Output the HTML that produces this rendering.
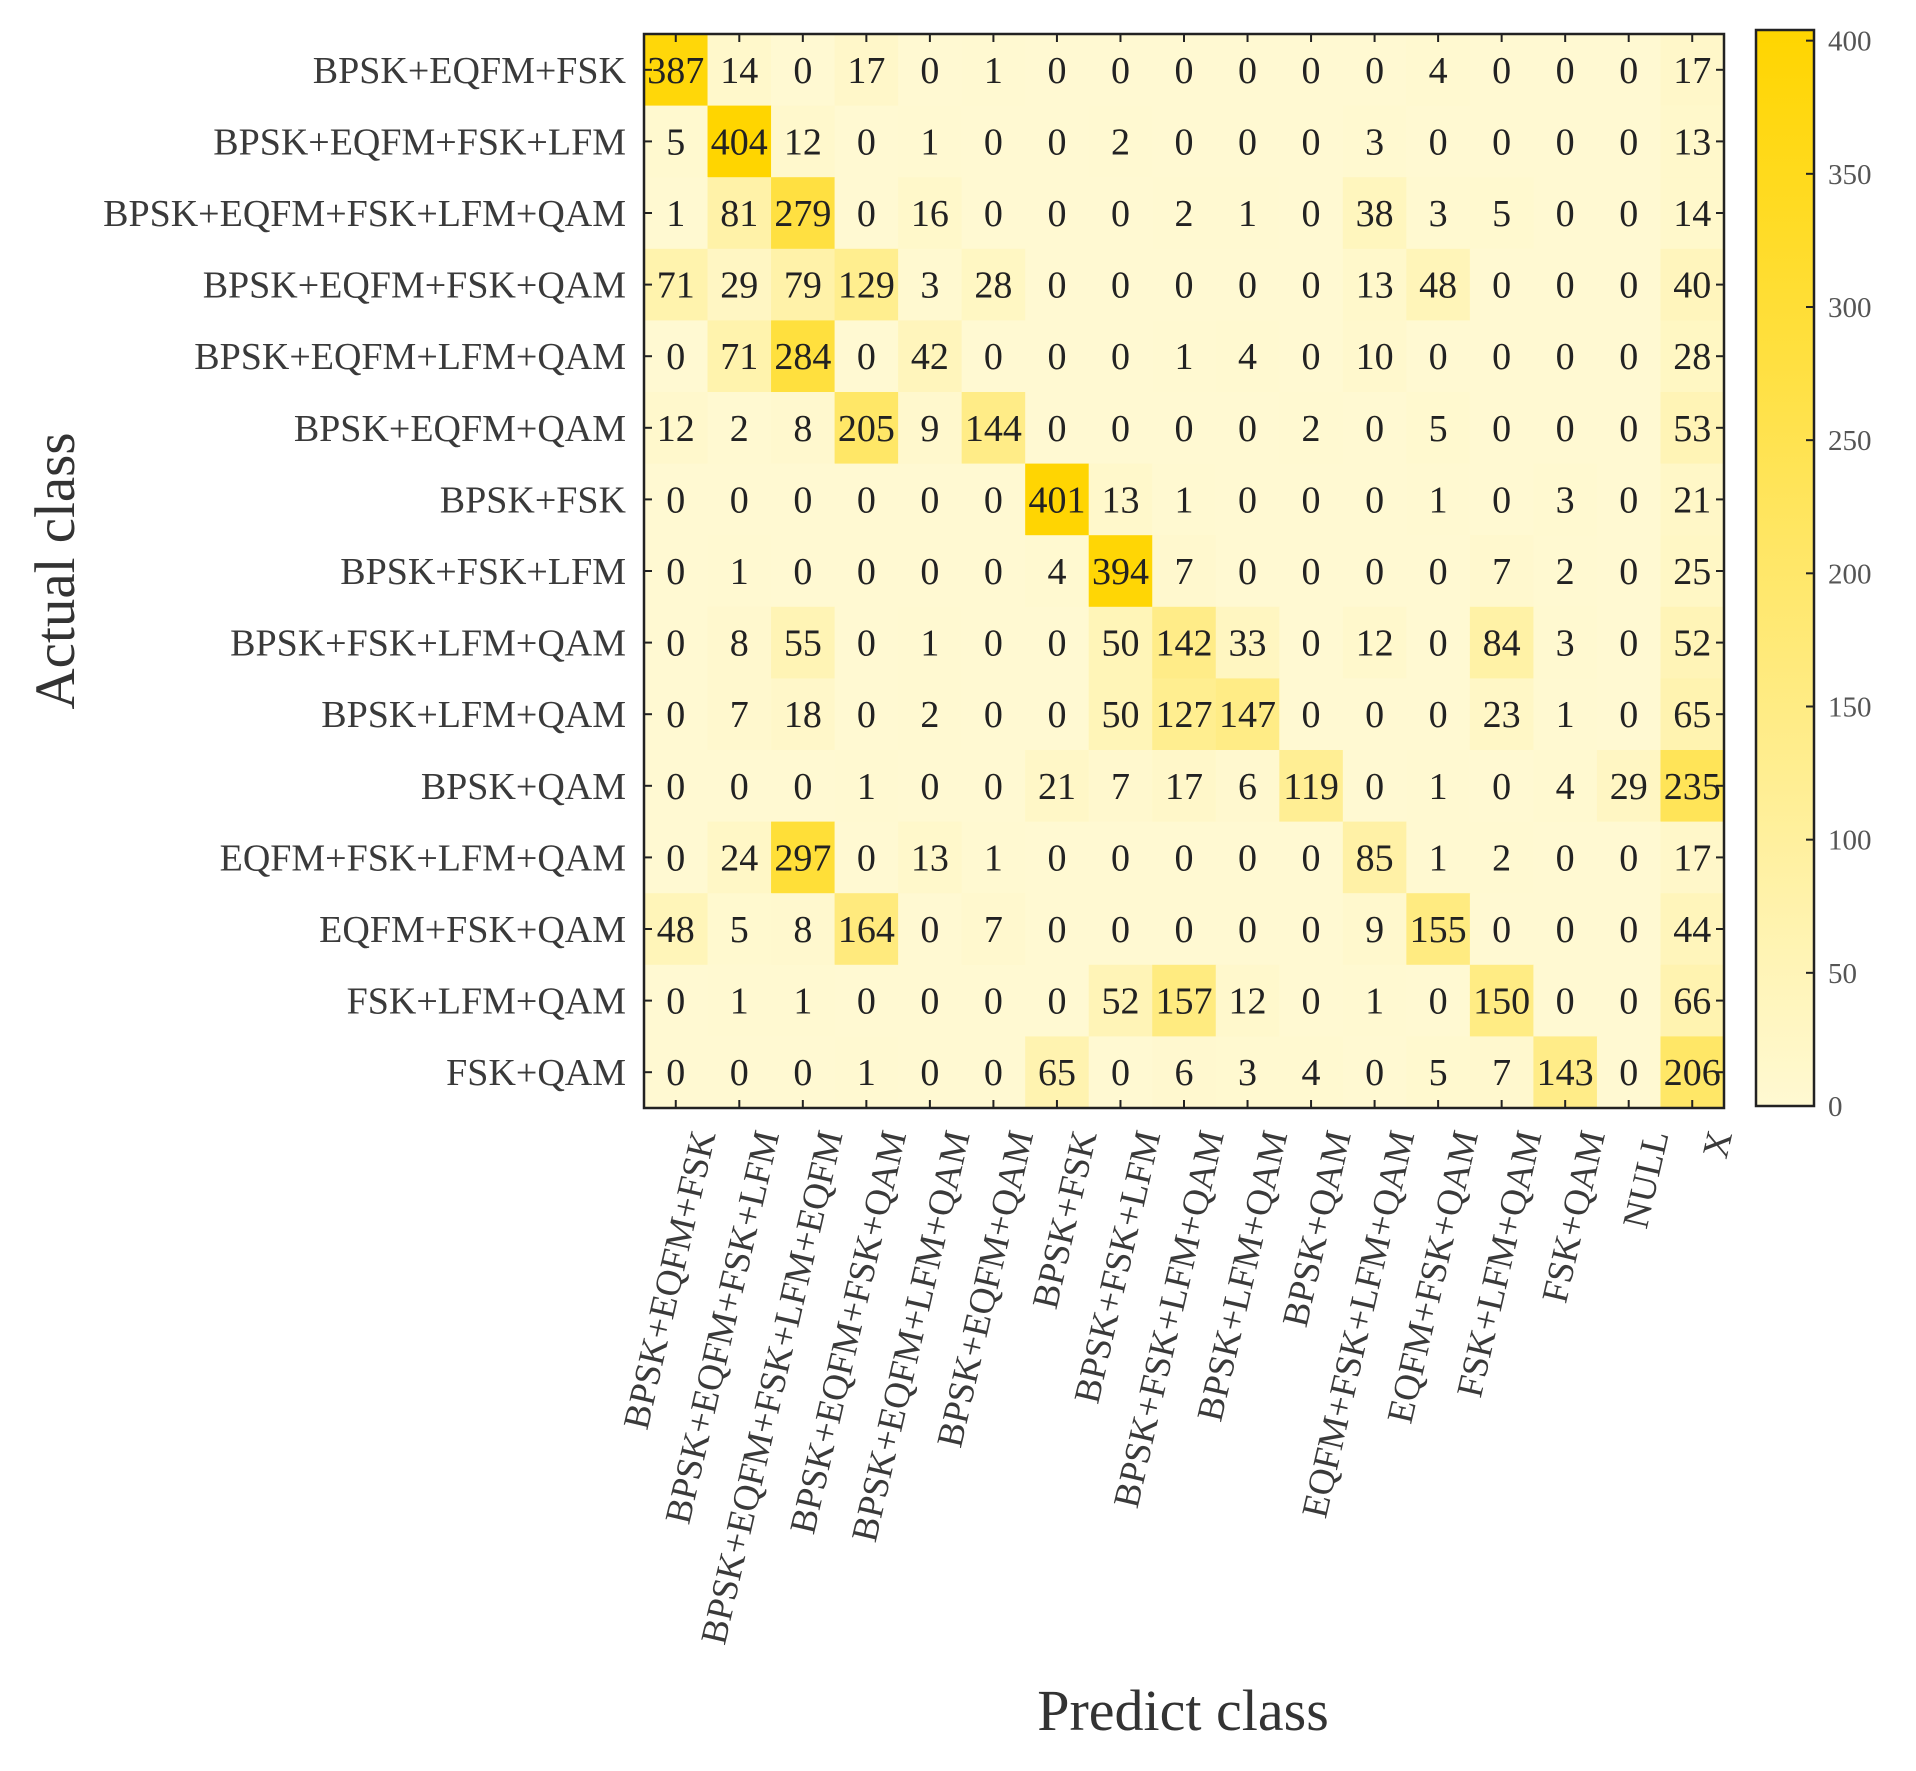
<!DOCTYPE html>
<html><head><meta charset="utf-8"><style>
html,body{margin:0;padding:0;background:#fff;}
svg{display:block;font-family:"Liberation Serif",serif;}
</style></head><body>
<svg id="chart" width="1916" height="1771" viewBox="0 0 1916 1771" xmlns="http://www.w3.org/2000/svg">
<defs><linearGradient id="cbg" x1="0" y1="1" x2="0" y2="0"><stop offset="0" stop-color="#FFF9D2"/><stop offset="1" stop-color="#FFD500"/></linearGradient></defs>
<g id="cells"></g>
<g id="axes"></g>
</svg>
<script>
const rowLabels=["BPSK+EQFM+FSK","BPSK+EQFM+FSK+LFM","BPSK+EQFM+FSK+LFM+QAM","BPSK+EQFM+FSK+QAM","BPSK+EQFM+LFM+QAM","BPSK+EQFM+QAM","BPSK+FSK","BPSK+FSK+LFM","BPSK+FSK+LFM+QAM","BPSK+LFM+QAM","BPSK+QAM","EQFM+FSK+LFM+QAM","EQFM+FSK+QAM","FSK+LFM+QAM","FSK+QAM"];
const colLabels=["BPSK+EQFM+FSK","BPSK+EQFM+FSK+LFM","BPSK+EQFM+FSK+LFM+EQFM","BPSK+EQFM+FSK+QAM","BPSK+EQFM+LFM+QAM","BPSK+EQFM+QAM","BPSK+FSK","BPSK+FSK+LFM","BPSK+FSK+LFM+QAM","BPSK+LFM+QAM","BPSK+QAM","EQFM+FSK+LFM+QAM","EQFM+FSK+QAM","FSK+LFM+QAM","FSK+QAM","NULL","X"];
const values=[
[387,14,0,17,0,1,0,0,0,0,0,0,4,0,0,0,17],
[5,404,12,0,1,0,0,2,0,0,0,3,0,0,0,0,13],
[1,81,279,0,16,0,0,0,2,1,0,38,3,5,0,0,14],
[71,29,79,129,3,28,0,0,0,0,0,13,48,0,0,0,40],
[0,71,284,0,42,0,0,0,1,4,0,10,0,0,0,0,28],
[12,2,8,205,9,144,0,0,0,0,2,0,5,0,0,0,53],
[0,0,0,0,0,0,401,13,1,0,0,0,1,0,3,0,21],
[0,1,0,0,0,0,4,394,7,0,0,0,0,7,2,0,25],
[0,8,55,0,1,0,0,50,142,33,0,12,0,84,3,0,52],
[0,7,18,0,2,0,0,50,127,147,0,0,0,23,1,0,65],
[0,0,0,1,0,0,21,7,17,6,119,0,1,0,4,29,235],
[0,24,297,0,13,1,0,0,0,0,0,85,1,2,0,0,17],
[48,5,8,164,0,7,0,0,0,0,0,9,155,0,0,0,44],
[0,1,1,0,0,0,0,52,157,12,0,1,0,150,0,0,66],
[0,0,0,1,0,0,65,0,6,3,4,0,5,7,143,0,206]];
const cbTicks=[0,50,100,150,200,250,300,350,400];
const cMax=404;
const L=644,T=34,R=1724,B=1108;
const cw=(R-L)/colLabels.length, ch=(B-T)/rowLabels.length;
const xs=i=>L+i*cw, ys=j=>T+j*ch;
const CL=1756,CR=1814,CT=30,CB=1106;
const cy=v=>CB-(v/cMax)*(CB-CT);
function color(v){const t=Math.min(1,v/cMax);const c0=[255,249,210],c1=[255,213,0];
return `rgb(${c0.map((a,k)=>Math.round(a+(c1[k]-a)*t)).join(',')})`;}
const NS="http://www.w3.org/2000/svg";
function mk(tag,attrs,parent,text){const e=document.createElementNS(NS,tag);for(const k in attrs)e.setAttribute(k,attrs[k]);if(text!==undefined)e.textContent=text;parent.appendChild(e);return e;}
const cells=document.getElementById('cells'),axes=document.getElementById('axes');
values.forEach((row,j)=>row.forEach((v,i)=>{
 const r=mk('rect',{x:xs(i),y:ys(j),width:cw+0.5,height:ch+0.5,fill:color(v)},cells);
 
 
 const t=mk('text',{x:xs(i)+cw/2,y:ys(j)+ch/2+13,'text-anchor':'middle','font-size':38,fill:'#222'},cells,v);
 
 
}));
mk('rect',{x:L,y:T,width:R-L,height:B-T,fill:'none',stroke:'#222','stroke-width':2.5},axes);
rowLabels.forEach((lb,j)=>{
 const y=ys(j)+ch/2;
 mk('line',{x1:L,y1:y,x2:L+8,y2:y,stroke:'#222','stroke-width':2},axes);
 mk('line',{x1:R,y1:y,x2:R-8,y2:y,stroke:'#222','stroke-width':2},axes);
 const t=mk('text',{x:626,y:y+13,'text-anchor':'end','font-size':38,fill:'#3a3a3a'},axes,lb);
 
 
});
colLabels.forEach((lb,i)=>{
 const x=xs(i)+cw/2;
 mk('line',{x1:x,y1:B,x2:x,y2:B-8,stroke:'#222','stroke-width':2},axes);
 mk('line',{x1:x,y1:T,x2:x,y2:T+8,stroke:'#222','stroke-width':2},axes);
 const tx=x+40,ty=B+26;
 const t=mk('text',{x:tx,y:ty,'text-anchor':'end','font-size':37,fill:'#3a3a3a',transform:`rotate(-77 ${tx} ${ty})`},axes,lb);
 
 
});
const cb=mk('rect',{x:CL,y:CT,width:CR-CL,height:CB-CT,fill:'url(#cbg)',stroke:'#222','stroke-width':2.5},axes);


cbTicks.forEach(v=>{
 const y=cy(v);
 mk('line',{x1:CR,y1:y,x2:CR-8,y2:y,stroke:'#222','stroke-width':2},axes);
 const t=mk('text',{x:CR+14,y:y+10,'font-size':29,fill:'#555'},axes,v);
 
 
});
const yt=mk('text',{x:74,y:571,'text-anchor':'middle','font-size':57,fill:'#333',transform:'rotate(-90 74 571)'},axes,'Actual class');


const xt=mk('text',{x:1183,y:1730,'text-anchor':'middle','font-size':58,fill:'#333'},axes,'Predict class');


</script>
</body></html>
